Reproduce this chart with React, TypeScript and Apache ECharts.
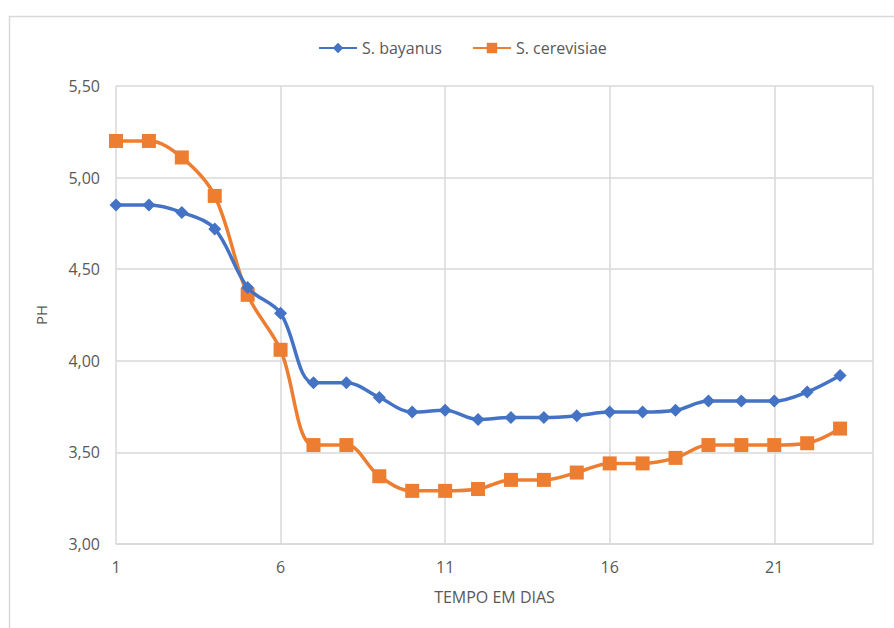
import React, { useEffect, useRef } from "react";
import * as echarts from "echarts";

const days = [1, 2, 3, 4, 5, 6, 7, 8, 9, 10, 11, 12, 13, 14, 15, 16, 17, 18, 19, 20, 21, 22, 23];
const bayanus = [4.85, 4.85, 4.81, 4.72, 4.4, 4.26, 3.88, 3.88, 3.8, 3.72, 3.73, 3.68, 3.69, 3.69, 3.7, 3.72, 3.72, 3.73, 3.78, 3.78, 3.78, 3.83, 3.92];
const cerevisiae = [5.2, 5.2, 5.11, 4.9, 4.36, 4.06, 3.54, 3.54, 3.37, 3.29, 3.29, 3.3, 3.35, 3.35, 3.39, 3.44, 3.44, 3.47, 3.54, 3.54, 3.54, 3.55, 3.63];
const seriesNames = ["S. bayanus", "S. cerevisiae"];
const xTitle = "TEMPO EM DIAS";
const yTitle = "PH";

export default function App() {
  const ref = useRef<HTMLDivElement>(null);
  useEffect(() => {
    document.body.style.margin = "0";
    const chart = echarts.init(ref.current!, null, { renderer: "svg" });
    const font = "'Open Sans', 'Noto Sans', sans-serif";
    const gray = "#595959";
    const gridColor = "#d9d9d9";
    chart.setOption({
      animation: false,
      backgroundColor: "#ffffff",
      textStyle: { fontFamily: font },
      graphic: [
        {
          type: "rect",
          shape: { x: 9.5, y: 16.5, width: 900, height: 700 },
          style: { fill: "none", stroke: gridColor, lineWidth: 1.5 },
          silent: true,
        },
      ],
      legend: {
        top: 35,
        left: 313,
        itemWidth: 38,
        itemHeight: 13,
        itemGap: 30,
        textStyle: { color: gray, fontSize: 16, fontFamily: font },
        data: seriesNames,
      },
      grid: { left: 116, right: 21, top: 86, bottom: 84 },
      xAxis: {
        type: "value",
        min: 1,
        max: 24,
        interval: 5,
        name: xTitle,
        nameLocation: "middle",
        nameGap: 45,
        nameTextStyle: { color: gray, fontSize: 16, fontFamily: font },
        axisLine: { show: true, lineStyle: { color: gridColor, width: 1.5 } },
        axisTick: { show: false },
        axisLabel: { color: gray, fontSize: 16, margin: 15, showMaxLabel: false, fontFamily: font },
        splitLine: { show: true, lineStyle: { color: gridColor, width: 1.5 } },
      },
      yAxis: {
        type: "value",
        min: 3,
        max: 5.5,
        interval: 0.5,
        name: yTitle,
        nameLocation: "middle",
        nameGap: 68,
        nameTextStyle: { color: gray, fontSize: 15, fontFamily: font },
        axisLine: { show: false },
        axisTick: { show: false },
        axisLabel: {
          color: gray,
          fontSize: 16,
          margin: 16,
          fontFamily: font,
          formatter: (v: number) => v.toFixed(2).replace(".", ","),
        },
        splitLine: { show: true, lineStyle: { color: gridColor, width: 1.5 } },
      },
      series: [
        {
          name: seriesNames[0],
          type: "line",
          smooth: 0.35,
          data: days.map((d, i) => [d, bayanus[i]]),
          symbol: "diamond",
          symbolSize: 13,
          lineStyle: { color: "#4472C4", width: 3.5 },
          itemStyle: { color: "#4472C4" },
          z: 3,
        },
        {
          name: seriesNames[1],
          type: "line",
          smooth: 0.35,
          data: days.map((d, i) => [d, cerevisiae[i]]),
          symbol: "rect",
          symbolSize: 14,
          lineStyle: { color: "#ED7D31", width: 3.5 },
          itemStyle: { color: "#ED7D31" },
          z: 2,
        },
      ],
    });
    return () => chart.dispose();
  }, []);
  return <div ref={ref} style={{ width: 894, height: 628 }} />;
}
